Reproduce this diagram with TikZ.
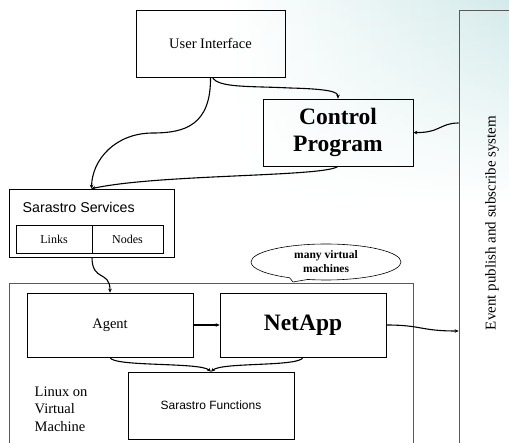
\documentclass[tikz,border=0pt]{standalone}
\usepackage{fontspec}
\setmainfont{Liberation Serif}
\newfontfamily\arialfont{Liberation Sans}
\usetikzlibrary{arrows.meta,shapes.callouts,fadings}
\definecolor{bgc}{RGB}{212,234,234}
\tikzfading[name=fadedown, top color=transparent!0, middle color=transparent!35, bottom color=transparent!100]
\tikzset{
  box/.style={draw=black, line width=0.7pt, inner sep=0pt, minimum width=#1},
  box/.default=150pt,
  graybox/.style={draw=black!65, line width=0.7pt, inner sep=0pt},
  conn/.style={line width=1.1pt, -{Stealth[length=4pt,width=3.6pt]}},
  serifA/.style={font=\fontsize{14.5}{17.5}\selectfont},
  bigbold/.style={font=\fontsize{23.5}{28}\selectfont\bfseries, align=center},
}
\begin{document}
\begin{tikzpicture}[x=1pt,y=-1pt]
\useasboundingbox (0,0) rectangle (509,443);
\clip (0,0) rectangle (509,443);
% background tint
\shade[left color=white, right color=bgc, path fading=fadedown] (230,0) rectangle (509,205);
% event system
\node[graybox, minimum width=70pt, minimum height=450pt] (ev) at (494,235) {};
\node[rotate=90, font=\fontsize{15}{18}\selectfont] (evlabel) at (492,223) {Event publish and subscribe system};
% top boxes
\node[box=149pt, minimum height=67pt, serifA] (ui) at (210.5,43.5) {User Interface};
\node[box=150pt, minimum height=67pt, bigbold] (cp) at (338,132.5) {Control\\[-1pt]Program};
% Sarastro services
\node[box=165pt, minimum height=68pt] (ss) at (91.5,223) {};
\node[anchor=west, inner sep=0pt, font=\arialfont\fontsize{14.2}{17}\selectfont] (sstext) at (22.5,207.5) {Sarastro Services};
\node[box=76pt, minimum height=28pt, font=\fontsize{12}{14}\selectfont] (links) at (54,239) {Links};
\node[box=71pt, minimum height=28pt, font=\fontsize{12}{14}\selectfont] (nodesbox) at (127.5,239) {Nodes};
% virtual machine
\node[graybox, minimum width=404pt, minimum height=177pt] (vm) at (211,371.5) {};
\node[draw=black, line width=0.6pt, fill=white, ellipse callout, minimum width=150pt, minimum height=36pt, inner sep=0pt,
      callout absolute pointer={(293,282)}, align=center, font=\fontsize{11.5}{14}\selectfont\bfseries] (callout) at (326,262) {many virtual\\machines};
\node[box=166pt, minimum height=64pt, serifA] (agent) at (110,325) {Agent};
\node[box=166pt, minimum height=64pt, bigbold] (netapp) at (303,325) {NetApp};
\node[box=166pt, minimum height=67pt, font=\arialfont\fontsize{12}{14}\selectfont] (sf) at (211,405.5) {Sarastro Functions};
\node[anchor=west, inner sep=0pt, align=left, serifA] (linux) at (34.5,409) {Linux on\\Virtual\\Machine};
% connectors
\draw[conn] (ui.south) .. controls (211,125) and (185,133) .. (153,133) .. controls (115,133) and (92,160) .. (ss.north);
\draw[conn] ([xshift=2pt]ui.south) .. controls (218,88) and (250,86) .. (290,88) .. controls (330,89) and (338,92) .. (cp.north);
\draw[conn] (cp.south) .. controls (325,177) and (160,174) .. (ss.north);
\draw[conn] (ev.west |- 0,123) .. controls (440,123) and (440,133) .. (cp.east);
\draw[conn] ([xshift=0.5pt]ss.south) .. controls (92,282) and (110,270) .. (agent.north);
\draw[conn] (agent.east) -- (netapp.west);
\draw[conn] (netapp.east) .. controls (422,325) and (420,331) .. (ev.west |- 0,331);
\draw[conn] (agent.south) .. controls (112,367) and (200,362) .. (sf.north);
\draw[conn] (netapp.south) .. controls (300,367) and (222,362) .. (sf.north);
\end{tikzpicture}
\end{document}
